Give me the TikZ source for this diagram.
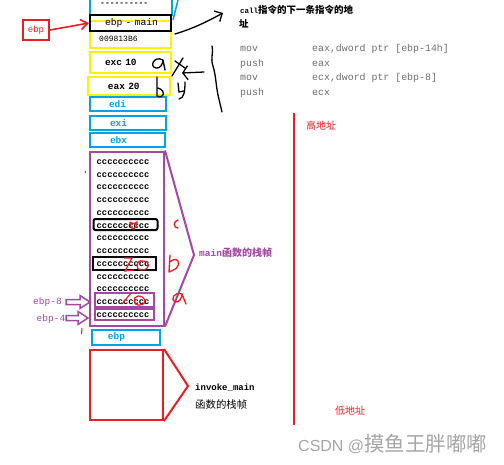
\documentclass[tikz,border=0pt]{standalone}
\usepackage{fontspec}
\setmonofont{Liberation Mono}
\newfontfamily\cjk{Noto Sans CJK SC}
\usetikzlibrary{arrows.meta}
\definecolor{pblue}{RGB}{0,162,232}
\definecolor{pyellow}{RGB}{255,242,0}
\definecolor{ppurple}{RGB}{163,73,164}
\definecolor{pred}{RGB}{237,28,36}
\definecolor{pgray}{RGB}{110,110,110}
\tikzset{
  cell/.style={draw, line width=2pt, inner sep=0pt, align=left, font=\ttfamily\bfseries\fontsize{9.5}{10}\selectfont},
  cw/.style={text width=#1, minimum width=#1},
  bluecell/.style={cell, draw=pblue, text=pblue},
  yelcell/.style={cell, draw=pyellow},
  crow/.style={anchor=west, inner sep=0pt, font=\ttfamily\bfseries\fontsize{8.8}{10}\selectfont},
  hand/.style={line width=1.3pt, line cap=round, line join=round},
  asm/.style={anchor=west, inner sep=0pt, text=pgray, font=\ttfamily\fontsize{9.9}{11}\selectfont},
  lbl/.style={anchor=west, inner sep=0pt},
}
\begin{document}
\begin{tikzpicture}[x=1pt,y=-1pt]
\useasboundingbox (0,0) rectangle (504,464);
% top partial blue box
\node[bluecell, cw=82pt, minimum height=22pt] (topbox) at (131,4) {};
\node[crow, font=\ttfamily\bfseries\fontsize{8}{8}\selectfont] (topdots) at (100,4) {----------};
\draw[pblue, line width=1.5pt] (173,20) -- (178,0);
% return address (yellow) and saved ebp (black)
\node[yelcell, cw=81pt, minimum height=27pt] (ret) at (130.5,34.5) {};
\node[cell, draw=black, cw=81pt, minimum height=16pt, font=\ttfamily\fontsize{9.7}{10}\selectfont] (ebpmain) at (130.5,23) {\hspace*{15pt}ebp - main};
\node[lbl, font=\ttfamily\fontsize{8}{9}\selectfont] (addr) at (99,39) {009813B6};
\node[yelcell, cw=81pt, minimum height=21pt] (exc) at (130.5,62.5) {\hspace*{15pt}exc 10};
\node[yelcell, cw=82pt, minimum height=18pt] (eax) at (129,86) {\hspace*{20pt}eax 20};
\node[bluecell, cw=76pt, minimum height=14pt] (edi) at (128,104) {\hspace*{19pt}edi};
\node[bluecell, cw=76pt, minimum height=14pt] (exi) at (128,123) {\hspace*{20pt}exi};
\node[bluecell, cw=75pt, minimum height=14pt] (ebx) at (127.5,140) {\hspace*{20pt}ebx};
% ebp red box
\node[draw=pred, line width=2pt, text=pred, minimum width=26pt, minimum height=20pt, inner sep=0pt, font=\ttfamily\fontsize{9}{10}\selectfont] (ebpreg) at (36,30) {ebp};
\draw[pred, line width=1.6pt, -{Straight Barb[length=7pt,width=10pt]}] (ebpreg.east) -- (ebpmain.west);
% main frame
\node[draw=ppurple, line width=2pt, minimum width=74pt, minimum height=174pt, inner sep=0pt] (mainframe) at (127,238.5) {};
\foreach \i in {0,...,12}{
  \node[crow] (c\i) at (96.5,162+\i*12.75) {cccccccccc};
}
\node[draw=black, line width=2pt, rounded corners=2pt, minimum width=64pt, minimum height=11pt, inner sep=0pt] (hl1) at (125.5,224.5) {};
\node[draw=black, line width=2pt, minimum width=63pt, minimum height=13pt, inner sep=0pt] (hl2) at (124.5,263.5) {};
\node[draw=ppurple, line width=1.6pt, minimum width=59pt, minimum height=14pt, inner sep=0pt] (var8) at (124.5,300) {};
\node[draw=ppurple, line width=1.6pt, minimum width=59pt, minimum height=11pt, inner sep=0pt] (var4) at (124.5,314.5) {};
\coordinate (mtip) at (194,255);
\draw[ppurple, line width=2pt] (mainframe.north east) -- (mtip) -- (mainframe.south east);
\node[lbl, text=ppurple, font=\ttfamily\bfseries\fontsize{9.5}{10}\selectfont] (mainlbl) at (199,253) {main{\cjk\fontsize{10}{10}\selectfont 函数的栈帧}};
% ebp-8 / ebp-4
\node[text=ppurple, inner sep=0pt, font=\ttfamily\fontsize{9.5}{10}\selectfont] (l8) at (47.5,302) {ebp-8};
\node[text=ppurple, inner sep=0pt, font=\ttfamily\fontsize{9.5}{10}\selectfont] (l4) at (51,319) {ebp-4};
\draw[ppurple, line width=1.5pt, line join=miter] (66,299.5) -- (80,299.5) -- (80,295.5) -- (90,302) -- (80,308.5) -- (80,304.5) -- (66,304.5) -- cycle;
\draw[ppurple, line width=1.5pt, line join=miter] (66,315.5) -- (78,315.5) -- (78,311.5) -- (88,318) -- (78,324.5) -- (78,320.5) -- (66,320.5) -- cycle;
% ebp and invoke_main
\node[bluecell, cw=68pt, minimum height=15pt] (ebpbot) at (126,337.5) {\hspace*{16pt}ebp};
\node[draw=pred, line width=2pt, minimum width=73pt, minimum height=70pt, inner sep=0pt] (invframe) at (126.5,385) {};
\coordinate (itip) at (188,386);
\draw[pred, line width=2pt] (invframe.north east) -- (itip) -- (invframe.south east);
\node[lbl, font=\ttfamily\bfseries\fontsize{9}{10}\selectfont] (invlbl) at (195,388) {invoke\_main};
\node[lbl, font=\cjk\fontsize{10.4}{11}\selectfont] (invlbl2) at (195,405) {函数的栈帧};
% call annotation
\node[lbl, font=\ttfamily\bfseries\fontsize{7.5}{9}\selectfont] (call1) at (240,10) {call{\cjk\bfseries\fontsize{9.5}{10}\selectfont 指令的下一条指令的地}};
\node[lbl, font=\cjk\bfseries\fontsize{9.5}{10}\selectfont] (call2) at (239,24) {址};
\node[asm] (a1) at (240,49) {mov};
\node[asm] (a2) at (240,63.5) {push};
\node[asm] (a3) at (240,78) {mov};
\node[asm] (a4) at (240,92.5) {push};
\node[asm] (b1) at (312,49) {eax,dword ptr [ebp-14h]};
\node[asm] (b2) at (312,63.5) {eax};
\node[asm] (b3) at (312,78) {ecx,dword ptr [ebp-8]};
\node[asm] (b4) at (312,92.5) {ecx};
% freehand black
\coordinate (callarr) at (223,13);
\draw[hand, -{Straight Barb[length=6pt,width=12pt]}] (175,34) .. controls (195,28) and (210,20) .. (callarr);
\draw[hand] (163,60) .. controls (154,55) and (149,67) .. (156,68) .. controls (160,69) and (163,64) .. (163,60) -- (165,70);
\draw[hand] (157,77) -- (157,96) .. controls (164,99) and (167,91) .. (158,88);
\draw[hand] (172,76) -- (183,58);
\draw[hand] (175,61) -- (185,68);
\draw[hand] (178,83) -- (179,92) -- (184,91);
\draw[hand] (185,82) .. controls (185,92) and (184,98) .. (179,99);
\coordinate (xarrs) at (204,72);
\coordinate (xarre) at (182,73);
\draw[hand, -{Straight Barb[length=5pt,width=14pt]}] (xarrs) -- (xarre);
\draw[hand] (212,46) .. controls (214,52) and (210,58) .. (213,66) .. controls (216,76) and (216,86) .. (218,95) -- (222,112);
% freehand red
\draw[pred, hand] (178,220) .. controls (173,221) and (173,228) .. (178,228);
\draw[pred, hand] (170,255) -- (169,272) .. controls (174,270) and (180,268) .. (178,261) .. controls (176,258) and (172,260) .. (170,262);
\draw[pred, hand] (182,294) .. controls (174,291) and (170,300) .. (175,302) .. controls (180,303) and (182,297) .. (182,294) -- (186,304);
\draw[pred, line width=1.2pt] (130,222) .. controls (133,224) and (134,224) .. (137,222) .. controls (137,226) and (135,229) .. (133,229) .. controls (131,228) and (130,226) .. (130,222);
\draw[pred, line width=1.2pt] (124,258) -- (132,258) -- (125,271) -- (134,270);
\draw[pred, line width=1.2pt] (143,261) .. controls (136,259) and (134,270) .. (142,270) .. controls (150,270) and (151,261) .. (143,261);
\draw[pred, line width=1.2pt] (122,304) -- (131,293);
\draw[pred, line width=1.2pt] (138,296) .. controls (132,297) and (133,306) .. (140,305) .. controls (148,304) and (146,296) .. (138,296);
\draw[pred, line width=1pt] (85,171) -- (85.5,173);
\draw[pred, line width=1pt] (82,328) -- (81.5,334);
% address axis
\coordinate (axtop) at (294,113);
\coordinate (axbot) at (294,425);
\draw[pred, line width=2pt] (axtop) -- (axbot);
\node[lbl, text=pred, font=\cjk\fontsize{10}{10}\selectfont] (hi) at (306,126) {高地址};
\node[lbl, text=pred, font=\cjk\fontsize{10}{10}\selectfont] (lo) at (335,411) {低地址};
% watermark
\node[lbl, text=gray!70, font=\fontspec{Liberation Sans}\fontsize{16}{18}\selectfont] (wm) at (298,444) {CSDN @{\cjk\fontsize{20.5}{20}\selectfont 摸鱼王胖嘟嘟}};
\end{tikzpicture}
\end{document}
